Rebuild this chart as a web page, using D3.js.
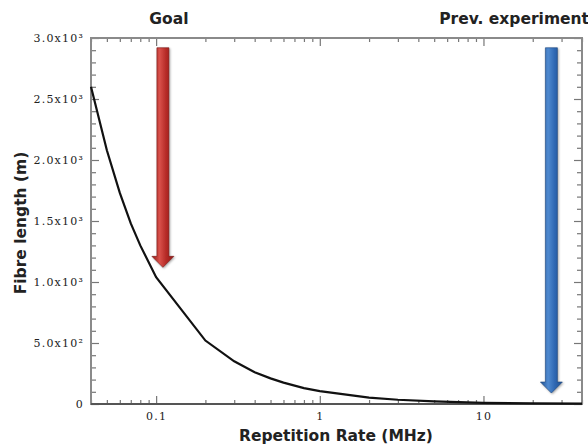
<!DOCTYPE html>
<html>
<head>
<meta charset="utf-8">
<script src="https://cdn.jsdelivr.net/npm/d3@7"></script>
<style>
  body { margin: 0; background: #fff; }
  svg text { fill: #222; }
</style>
</head>
<body>
<svg id="chart" width="588" height="445"></svg>
<script>
// repetition rate (MHz) and fibre length (m)
var rates = [0.04, 0.05, 0.06, 0.07, 0.08, 0.1, 0.2, 0.3, 0.4, 0.5, 0.6, 0.8, 1, 2, 3, 5, 10, 20, 40];
var lengths = [2600, 2080, 1730, 1480, 1300, 1040, 520, 350, 260, 210, 175, 130, 105, 52, 35, 21, 10, 5, 2.6];

var yTicks = [0, 500, 1000, 1500, 2000, 2500, 3000];
var yTickLabels = ["0", "5.0x10²", "1.0x10³", "1.5x10³", "2.0x10³", "2.5x10³", "3.0x10³"];
var xTicks = [0.1, 1, 10];
var xTickLabels = ["0.1", "1", "10"];

// arrows: label, rate, top value, tip value
var arrowNames = ["Goal", "Prev. experiment"];
var arrowRates = [0.11, 26];
var arrowTops = [2920, 2920];
var arrowTips = [1120, 90];

var svg = d3.select("#chart");
var plotL = 91, plotR = 582, plotT = 38, plotB = 404;

var x = d3.scaleLog().domain([0.04, 40]).range([plotL, plotR]);
var y = d3.scaleLinear().domain([0, 3000]).range([plotB, plotT]);

var defs = svg.append("defs");
function shaftGrad(id, dark, mid, light) {
  var g = defs.append("linearGradient").attr("id", id)
    .attr("x1", "0").attr("x2", "1").attr("y1", "0").attr("y2", "0");
  g.append("stop").attr("offset", "0%").attr("stop-color", dark);
  g.append("stop").attr("offset", "35%").attr("stop-color", light);
  g.append("stop").attr("offset", "65%").attr("stop-color", mid);
  g.append("stop").attr("offset", "100%").attr("stop-color", dark);
}
shaftGrad("redGrad", "#8e1a17", "#b52a26", "#d9504a");
shaftGrad("blueGrad", "#1f4f8f", "#2f68b3", "#4f8ad0");

// minor ticks
var xMinor = [];
[0.01, 0.1, 1, 10].forEach(function (d) {
  for (var k = 2; k <= 9; k++) {
    var v = +(d * k).toPrecision(3);
    if (v >= 0.04 && v <= 40) xMinor.push(v);
  }
});
var yMinor = d3.range(0, 3001, 100).filter(function (v) { return v % 500 !== 0; });

var tickColor = "#777";
var labelFont = "DejaVu Serif, serif";

// bottom axis
var xAxisB = d3.axisBottom(x).tickValues(xTicks).tickFormat(function (d, i) { return xTickLabels[i]; })
  .tickSizeInner(-8).tickSizeOuter(0).tickPadding(8);
var gxb = svg.append("g").attr("transform", "translate(0," + plotB + ")").call(xAxisB);
gxb.selectAll("text").attr("font-family", labelFont).attr("font-size", "11px")
  .attr("letter-spacing", "1.2px").attr("fill", "#444");

var gxbm = svg.append("g").attr("transform", "translate(0," + plotB + ")")
  .call(d3.axisBottom(x).tickValues(xMinor).tickFormat("").tickSizeInner(-4).tickSizeOuter(0));
var gxt = svg.append("g").attr("transform", "translate(0," + plotT + ")")
  .call(d3.axisTop(x).tickValues(xTicks).tickFormat("").tickSizeInner(-8).tickSizeOuter(0));
var gxtm = svg.append("g").attr("transform", "translate(0," + plotT + ")")
  .call(d3.axisTop(x).tickValues(xMinor).tickFormat("").tickSizeInner(-4).tickSizeOuter(0));

var yAxisL = d3.axisLeft(y).tickValues(yTicks).tickFormat(function (d, i) { return yTickLabels[i]; })
  .tickSizeInner(0).tickSizeOuter(0).tickPadding(7);
var gyl = svg.append("g").attr("transform", "translate(" + plotL + ",0)").call(yAxisL);
gyl.selectAll("text").attr("font-family", labelFont).attr("font-size", "11px")
  .attr("letter-spacing", "1.2px").attr("fill", "#444");
var gylt = svg.append("g").attr("transform", "translate(" + plotL + ",0)")
  .call(d3.axisRight(y).tickValues(yTicks).tickFormat("").tickSizeInner(8).tickSizeOuter(0));
var gylm = svg.append("g").attr("transform", "translate(" + plotL + ",0)")
  .call(d3.axisRight(y).tickValues(yMinor).tickFormat("").tickSizeInner(5).tickSizeOuter(0));
var gyr = svg.append("g").attr("transform", "translate(" + plotR + ",0)")
  .call(d3.axisLeft(y).tickValues(yTicks).tickFormat("").tickSizeInner(8).tickSizeOuter(0));
var gyrm = svg.append("g").attr("transform", "translate(" + plotR + ",0)")
  .call(d3.axisLeft(y).tickValues(yMinor).tickFormat("").tickSizeInner(5).tickSizeOuter(0));

[gxb, gxbm, gxt, gxtm, gyl, gylt, gylm, gyr, gyrm].forEach(function (g) {
  g.select(".domain").remove();
  g.selectAll("line").attr("stroke", tickColor).attr("stroke-width", 1.2);
});

// frame
svg.append("rect")
  .attr("x", plotL).attr("y", plotT)
  .attr("width", plotR - plotL).attr("height", plotB - plotT)
  .attr("fill", "none").attr("stroke", "#8a8a8a").attr("stroke-width", 2);
svg.append("line")
  .attr("x1", plotL).attr("x2", plotR).attr("y1", plotB).attr("y2", plotB)
  .attr("stroke", "#555").attr("stroke-width", 2);

// curve
var line = d3.line()
  .x(function (d, i) { return x(rates[i]); })
  .y(function (d) { return y(d); });
svg.append("path")
  .datum(lengths)
  .attr("d", line)
  .attr("fill", "none")
  .attr("stroke", "#111")
  .attr("stroke-width", 2.2);

// arrows
var shaftW = 12, headW = 22, headH = 11;
var grads = ["url(#redGrad)", "url(#blueGrad)"];
var edges = ["#7a1512", "#1b4680"];
arrowRates.forEach(function (r, i) {
  var cx = x(r), y0 = y(arrowTops[i]), y1 = y(arrowTips[i]);
  var hy = y1 - headH;
  var pts = [
    [cx - shaftW / 2, y0], [cx + shaftW / 2, y0], [cx + shaftW / 2, hy],
    [cx + headW / 2, hy], [cx, y1], [cx - headW / 2, hy], [cx - shaftW / 2, hy]
  ];
  svg.append("path")
    .attr("d", "M" + pts.map(function (p) { return p.join(","); }).join("L") + "Z")
    .attr("fill", grads[i])
    .attr("stroke", edges[i])
    .attr("stroke-width", 0.6)
    .style("filter", "drop-shadow(1px 1px 1px rgba(0,0,0,0.35))");
});

// arrow labels
svg.append("text")
  .attr("x", x(arrowRates[0]) + 6).attr("y", 24)
  .attr("text-anchor", "middle")
  .attr("font-family", "DejaVu Sans, sans-serif").attr("font-weight", "bold").attr("font-size", "15.5px")
  .text(arrowNames[0]);
svg.append("text")
  .attr("x", 589).attr("y", 24)
  .attr("text-anchor", "end")
  .attr("font-family", "DejaVu Sans, sans-serif").attr("font-weight", "bold").attr("font-size", "15.5px")
  .text(arrowNames[1]);

// axis titles
svg.append("text")
  .attr("x", 336).attr("y", 441)
  .attr("text-anchor", "middle")
  .attr("font-family", "DejaVu Sans, sans-serif").attr("font-weight", "bold").attr("font-size", "15.5px")
  .text("Repetition Rate (MHz)");
svg.append("text")
  .attr("transform", "translate(26," + ((plotT + plotB) / 2 + 2) + ") rotate(-90)")
  .attr("text-anchor", "middle")
  .attr("font-family", "DejaVu Sans, sans-serif").attr("font-weight", "bold").attr("font-size", "15.5px")
  .text("Fibre length (m)");
</script>
</body>
</html>
